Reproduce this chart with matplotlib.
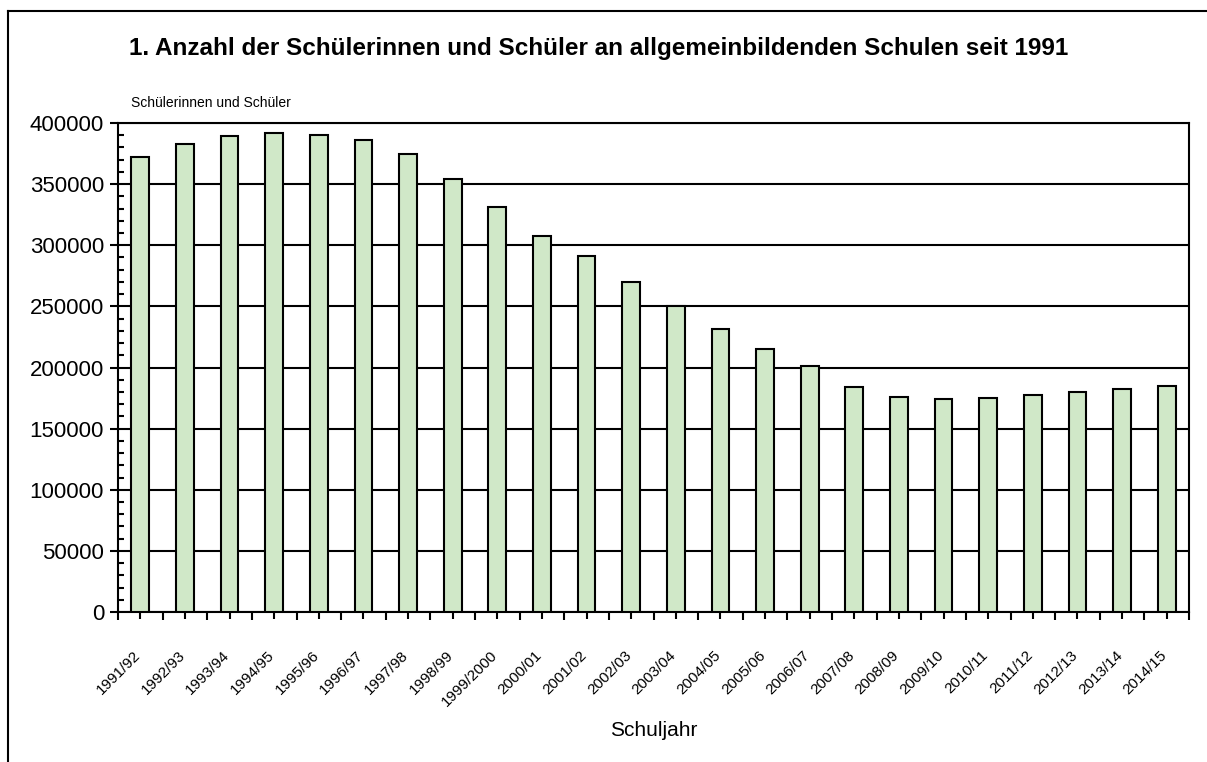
"""
Schülerinnen und Schüler an allgemeinbildenden Schulen seit 1991
"""
import numpy as np
import matplotlib
matplotlib.use("Agg")
import matplotlib.pyplot as plt
import matplotlib.transforms as mtransforms
from matplotlib.lines import Line2D
from matplotlib.ticker import MultipleLocator, FixedLocator

plt.rcParams['font.family'] = ['Liberation Sans', 'DejaVu Sans']

schuljahre = [
    "1991/92", "1992/93", "1993/94", "1994/95", "1995/96", "1996/97",
    "1997/98", "1998/99", "1999/2000", "2000/01", "2001/02", "2002/03",
    "2003/04", "2004/05", "2005/06", "2006/07", "2007/08", "2008/09",
    "2009/10", "2010/11", "2011/12", "2012/13", "2013/14", "2014/15",
]
schueler = [
    372000, 383200, 389400, 392200, 390200, 386100,
    374500, 353800, 331200, 307400, 291000, 270300,
    250400, 231300, 215500, 201600, 183900, 176200,
    174100, 175400, 177600, 179800, 182700, 185200,
]

bar_color = "#D0E8C8"
lw = 1.5

fig = plt.figure(figsize=(12.07, 7.62), dpi=100)
ax = fig.add_axes([118 / 1207, 1 - 612 / 762, (1189 - 118) / 1207, (612 - 123) / 762])

x = np.arange(len(schuljahre))
ax.bar(x, schueler, width=0.4, color=bar_color, edgecolor="black",
       linewidth=lw, zorder=3)

ax.set_xlim(-0.5, len(schuljahre) - 0.5)
ax.set_ylim(0, 400000)

# y-Achse
ax.yaxis.set_major_locator(MultipleLocator(50000))
ax.yaxis.set_minor_locator(MultipleLocator(10000))
ax.tick_params(axis="y", which="major", direction="out", length=6, width=lw,
               labelsize=16, pad=4)
ax.tick_params(axis="y", which="minor", direction="in", length=4, width=lw)
ax.grid(axis="y", which="major", color="black", linewidth=lw, zorder=0)

# x-Achse
ax.set_xticks(x)
ax.set_xticklabels(schuljahre, rotation=45, ha="right", va="top",
                   rotation_mode="anchor", fontsize=11)
ax.xaxis.set_minor_locator(FixedLocator(np.arange(len(schuljahre) + 1) - 0.5))
ax.tick_params(axis="x", which="major", direction="out", length=5, width=lw,
               pad=21)
ax.tick_params(axis="x", which="minor", direction="out", length=6, width=lw)

# Beschriftungen etwas nach links verschieben
shift = mtransforms.ScaledTranslation(-7 / 100, 0, fig.dpi_scale_trans)
for lbl in ax.get_xticklabels():
    lbl.set_transform(lbl.get_transform() + shift)

for sp in ax.spines.values():
    sp.set_linewidth(lw)
    sp.set_color("black")

ax.set_xlabel("Schuljahr", fontsize=15, va="center")
ax.xaxis.set_label_coords(0.5, -(730 - 612) / 489)

fig.text(131 / 1207, 1 - 103 / 762, "Schülerinnen und Schüler",
         fontsize=10, ha="left", va="center")
fig.text(599 / 1207, 1 - 48 / 762,
         "1. Anzahl der Schülerinnen und Schüler an allgemeinbildenden Schulen seit 1991",
         fontsize=17.5, fontweight="bold", ha="center", va="center")

# Rahmen
fig.add_artist(Line2D([8 / 1207, 8 / 1207], [0, 1 - 11 / 762],
                      transform=fig.transFigure, color="black", linewidth=1.5))
fig.add_artist(Line2D([8 / 1207, 1], [1 - 11 / 762, 1 - 11 / 762],
                      transform=fig.transFigure, color="black", linewidth=1.5))

fig.savefig("out.png", dpi=100)
